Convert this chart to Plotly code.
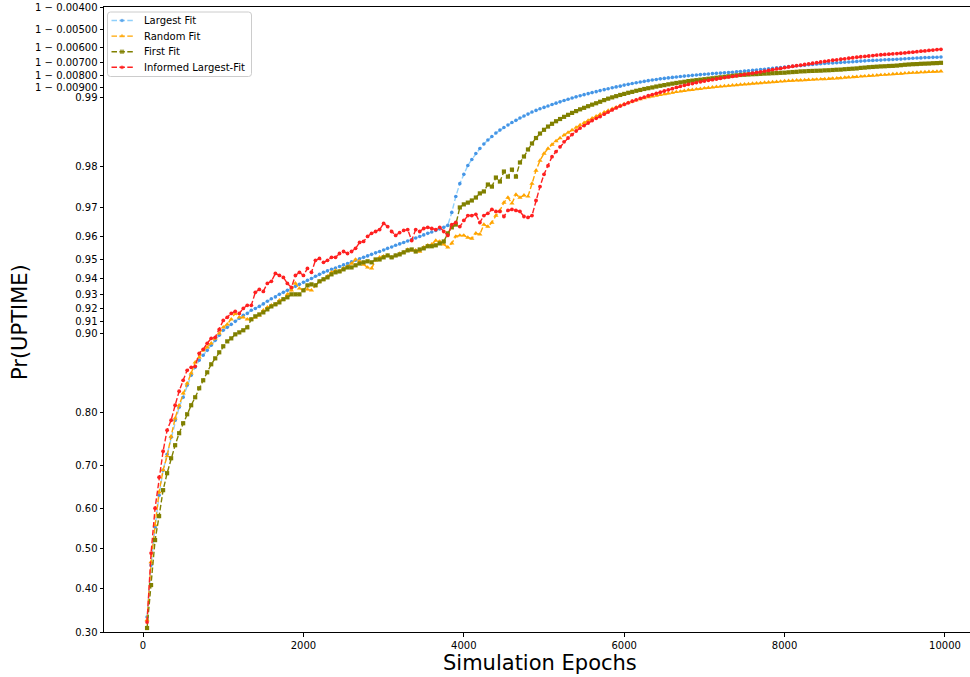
import numpy as np
import plotly.graph_objects as go

EPOCHS = list(range(50, 10000, 50))

LARGEST_FIT = [
    0.3330, 0.4586, 0.5549, 0.6333, 0.6901, 0.7238, 0.7570, 0.7874, 0.8087, 0.8239,
    0.8409, 0.8541, 0.8639, 0.8721, 0.8777, 0.8830, 0.8882, 0.8931, 0.8979, 0.9025,
    0.9051, 0.9077, 0.9102, 0.9127, 0.9151, 0.9166, 0.9190, 0.9204, 0.9219, 0.9237,
    0.9256, 0.9273, 0.9286, 0.9303, 0.9316, 0.9329, 0.9341, 0.9354, 0.9366, 0.9378,
    0.9390, 0.9401, 0.9413, 0.9424, 0.9435, 0.9443, 0.9451, 0.9458, 0.9466, 0.9474,
    0.9481, 0.9489, 0.9497, 0.9504, 0.9511, 0.9518, 0.9525, 0.9532, 0.9538, 0.9545,
    0.9552, 0.9558, 0.9565, 0.9571, 0.9577, 0.9583, 0.9589, 0.9595, 0.9601, 0.9607,
    0.9613, 0.9618, 0.9624, 0.9629, 0.9635, 0.9642, 0.9685, 0.9731, 0.9763, 0.9784,
    0.98023, 0.98137, 0.98245, 0.98331, 0.98405, 0.98468, 0.98520, 0.98571, 0.98613, 0.98648,
    0.98682, 0.98714, 0.98742, 0.98771, 0.98796, 0.98819, 0.98843, 0.98862, 0.98880, 0.98896,
    0.98912, 0.98927, 0.98942, 0.98956, 0.98970, 0.98983, 0.98995, 0.99007, 0.99018, 0.99029,
    0.99039, 0.99049, 0.99058, 0.99068, 0.99077, 0.99085, 0.99094, 0.99102, 0.99109, 0.99118,
    0.99125, 0.99132, 0.99139, 0.99145, 0.99151, 0.99157, 0.99162, 0.99167, 0.99172, 0.99176,
    0.99180, 0.99184, 0.99188, 0.99192, 0.99195, 0.99198, 0.99201, 0.99204, 0.99207, 0.99210,
    0.99212, 0.99215, 0.99217, 0.99219, 0.99222, 0.99224, 0.99226, 0.99229, 0.99231, 0.99234,
    0.99237, 0.99240, 0.99243, 0.99246, 0.99249, 0.99252, 0.99255, 0.99259, 0.99262, 0.99265,
    0.99268, 0.99271, 0.99274, 0.99276, 0.99278, 0.99282, 0.99284, 0.99287, 0.99289, 0.99292,
    0.99294, 0.99295, 0.99296, 0.99298, 0.99300, 0.99302, 0.99304, 0.99306, 0.99308, 0.99310,
    0.99312, 0.99313, 0.99314, 0.99315, 0.99317, 0.99318, 0.99319, 0.99321, 0.99322, 0.99324,
    0.99326, 0.99328, 0.99329, 0.99330, 0.99332, 0.99333, 0.99334, 0.99335, 0.99336,
]

RANDOM_FIT = [
    0.3262, 0.4662, 0.5600, 0.6403, 0.6901, 0.7197, 0.7588, 0.7907, 0.8118, 0.8297,
    0.8436, 0.8566, 0.8698, 0.8754, 0.8830, 0.8861, 0.8902, 0.8950, 0.8997, 0.9051,
    0.9077, 0.9119, 0.9166, 0.9135, 0.9135, 0.9119, 0.9119, 0.9135, 0.9151, 0.9190,
    0.9212, 0.9227, 0.9234, 0.9263, 0.9270, 0.9303, 0.9329, 0.9372, 0.9341, 0.9329,
    0.9335, 0.9329, 0.9360, 0.9384, 0.9396, 0.9413, 0.9435, 0.9445, 0.9440, 0.9456,
    0.9466, 0.9481, 0.9501, 0.9492, 0.9476, 0.9461, 0.9456, 0.9497, 0.9511, 0.9516,
    0.9520, 0.9511, 0.9520, 0.9529, 0.9534, 0.9547, 0.9543, 0.9543, 0.9538, 0.9556,
    0.9565, 0.9569, 0.9585, 0.9581, 0.9569, 0.9556, 0.9573, 0.9601, 0.9605, 0.9605,
    0.9597, 0.9593, 0.9613, 0.9609, 0.9645, 0.9638, 0.9652, 0.9675, 0.9691, 0.9714,
    0.9728, 0.9712, 0.9736, 0.9728, 0.9734, 0.9731, 0.9763, 0.9792, 0.98119, 0.98245,
    0.98331, 0.98397, 0.98452, 0.98498, 0.98542, 0.98578, 0.98613, 0.98648, 0.98682, 0.98711,
    0.98740, 0.98767, 0.98793, 0.98817, 0.98839, 0.98860, 0.98879, 0.98898, 0.98916, 0.98932,
    0.98947, 0.98961, 0.98974, 0.98985, 0.98995, 0.99004, 0.99012, 0.99020, 0.99028, 0.99034,
    0.99041, 0.99048, 0.99055, 0.99060, 0.99066, 0.99072, 0.99076, 0.99081, 0.99085, 0.99090,
    0.99094, 0.99098, 0.99102, 0.99106, 0.99109, 0.99113, 0.99117, 0.99119, 0.99123, 0.99125,
    0.99128, 0.99131, 0.99133, 0.99136, 0.99140, 0.99142, 0.99145, 0.99147, 0.99150, 0.99153,
    0.99155, 0.99157, 0.99159, 0.99160, 0.99162, 0.99164, 0.99165, 0.99167, 0.99169, 0.99170,
    0.99173, 0.99174, 0.99177, 0.99179, 0.99182, 0.99184, 0.99187, 0.99189, 0.99192, 0.99194,
    0.99197, 0.99199, 0.99201, 0.99204, 0.99206, 0.99208, 0.99211, 0.99213, 0.99215, 0.99218,
    0.99220, 0.99222, 0.99224, 0.99226, 0.99227, 0.99229, 0.99230, 0.99231, 0.99232,
]

FIRST_FIT = [
    0.3086, 0.4087, 0.5221, 0.5824, 0.6450, 0.6835, 0.7155, 0.7417, 0.7644, 0.7822,
    0.7974, 0.8118, 0.8239, 0.8368, 0.8476, 0.8578, 0.8675, 0.8743, 0.8809, 0.8872,
    0.8921, 0.8950, 0.8988, 0.9006, 0.9025, 0.9051, 0.9119, 0.9143, 0.9158, 0.9174,
    0.9197, 0.9219, 0.9234, 0.9248, 0.9270, 0.9283, 0.9303, 0.9303, 0.9303, 0.9329,
    0.9360, 0.9366, 0.9360, 0.9384, 0.9396, 0.9407, 0.9424, 0.9435, 0.9440, 0.9451,
    0.9461, 0.9461, 0.9472, 0.9481, 0.9487, 0.9492, 0.9487, 0.9501, 0.9501, 0.9511,
    0.9520, 0.9511, 0.9520, 0.9525, 0.9534, 0.9543, 0.9547, 0.9538, 0.9547, 0.9552,
    0.9561, 0.9561, 0.9565, 0.9573, 0.9581, 0.9613, 0.9635, 0.9645, 0.9700, 0.9709,
    0.9714, 0.9720, 0.9728, 0.9739, 0.9744, 0.9761, 0.9756, 0.9777, 0.9768, 0.9790,
    0.9779, 0.9794, 0.9779, 0.98081, 0.98192, 0.98315, 0.98413, 0.98498, 0.98564, 0.98617,
    0.98661, 0.98698, 0.98731, 0.98759, 0.98786, 0.98810, 0.98833, 0.98854, 0.98874, 0.98891,
    0.98909, 0.98926, 0.98941, 0.98957, 0.98974, 0.98989, 0.99002, 0.99014, 0.99026, 0.99036,
    0.99047, 0.99056, 0.99066, 0.99074, 0.99083, 0.99090, 0.99097, 0.99105, 0.99112, 0.99118,
    0.99125, 0.99131, 0.99137, 0.99142, 0.99147, 0.99153, 0.99157, 0.99161, 0.99165, 0.99169,
    0.99173, 0.99177, 0.99181, 0.99185, 0.99189, 0.99193, 0.99197, 0.99201, 0.99204, 0.99206,
    0.99208, 0.99210, 0.99211, 0.99213, 0.99215, 0.99216, 0.99218, 0.99219, 0.99221, 0.99222,
    0.99225, 0.99227, 0.99229, 0.99232, 0.99233, 0.99235, 0.99236, 0.99237, 0.99238, 0.99240,
    0.99241, 0.99243, 0.99245, 0.99246, 0.99249, 0.99251, 0.99253, 0.99255, 0.99259, 0.99261,
    0.99264, 0.99266, 0.99268, 0.99270, 0.99271, 0.99273, 0.99274, 0.99276, 0.99279, 0.99282,
    0.99284, 0.99286, 0.99287, 0.99289, 0.99290, 0.99291, 0.99293, 0.99294, 0.99296,
]

INFORMED_LARGEST_FIT = [
    0.3217, 0.4891, 0.6020, 0.6746, 0.7298, 0.7699, 0.7874, 0.8118, 0.8326, 0.8476,
    0.8603, 0.8639, 0.8651, 0.8798, 0.8841, 0.8902, 0.8950, 0.8960, 0.9033, 0.9110,
    0.9135, 0.9166, 0.9182, 0.9166, 0.9204, 0.9227, 0.9227, 0.9316, 0.9335, 0.9322,
    0.9372, 0.9384, 0.9429, 0.9418, 0.9407, 0.9372, 0.9347, 0.9418, 0.9435, 0.9418,
    0.9456, 0.9435, 0.9497, 0.9506, 0.9487, 0.9497, 0.9511, 0.9511, 0.9529, 0.9538,
    0.9529, 0.9538, 0.9552, 0.9577, 0.9581, 0.9601, 0.9613, 0.9620, 0.9627, 0.9649,
    0.9638, 0.9620, 0.9605, 0.9616, 0.9624, 0.9627, 0.9585, 0.9627, 0.9620, 0.9631,
    0.9635, 0.9631, 0.9627, 0.9635, 0.9620, 0.9605, 0.9645, 0.9652, 0.9638, 0.9659,
    0.9675, 0.9675, 0.9679, 0.9652, 0.9675, 0.9682, 0.9694, 0.9688, 0.9688, 0.9672,
    0.9691, 0.9694, 0.9691, 0.9688, 0.9672, 0.9669, 0.9675, 0.9720, 0.9756, 0.9784,
    0.9802, 0.9819, 0.9828, 0.9836, 0.9844, 0.98498, 0.98549, 0.98600, 0.98641, 0.98675,
    0.98708, 0.98740, 0.98767, 0.98790, 0.98818, 0.98843, 0.98868, 0.98890, 0.98910, 0.98929,
    0.98946, 0.98962, 0.98977, 0.98991, 0.99005, 0.99018, 0.99030, 0.99041, 0.99053, 0.99064,
    0.99075, 0.99086, 0.99097, 0.99107, 0.99116, 0.99125, 0.99132, 0.99140, 0.99147, 0.99154,
    0.99160, 0.99165, 0.99171, 0.99177, 0.99183, 0.99188, 0.99192, 0.99197, 0.99202, 0.99208,
    0.99213, 0.99219, 0.99224, 0.99229, 0.99235, 0.99240, 0.99246, 0.99251, 0.99255, 0.99261,
    0.99266, 0.99271, 0.99276, 0.99280, 0.99284, 0.99289, 0.99293, 0.99297, 0.99302, 0.99306,
    0.99310, 0.99314, 0.99317, 0.99321, 0.99324, 0.99328, 0.99331, 0.99335, 0.99338, 0.99340,
    0.99343, 0.99346, 0.99349, 0.99351, 0.99353, 0.99355, 0.99357, 0.99359, 0.99361, 0.99363,
    0.99366, 0.99368, 0.99371, 0.99374, 0.99376, 0.99379, 0.99381, 0.99384, 0.99386,
]

SERIES_NAMES = ["Largest Fit", "Random Fit", "First Fit", "Informed Largest-Fit"]

Y_TICK_VALUES = [0.30, 0.40, 0.50, 0.60, 0.70, 0.80, 0.90,
                 0.91, 0.92, 0.93, 0.94, 0.95, 0.96, 0.97, 0.98, 0.99,
                 0.991, 0.992, 0.993, 0.994, 0.995, 0.996]
Y_TICK_LABELS = ["0.30", "0.40", "0.50", "0.60", "0.70", "0.80", "0.90",
                 "0.91", "0.92", "0.93", "0.94", "0.95", "0.96", "0.97", "0.98", "0.99",
                 "1 \u2212 0.00900", "1 \u2212 0.00800", "1 \u2212 0.00700",
                 "1 \u2212 0.00600", "1 \u2212 0.00500", "1 \u2212 0.00400"]
X_TICK_VALUES = [0, 2000, 4000, 6000, 8000, 10000]
Y_LIMITS = [0.30, 0.996]
X_LIMITS = [-487, 10312]


def logit(p):
    p = np.asarray(p, dtype=float)
    return np.log(p / (1.0 - p))


# (line colour, marker colour, marker symbol, marker size)
STYLES = [
    ("#8fd0fb", "#4595e6", "circle", 3.6),
    ("#ffa500", "#ffa500", "triangle-up", 4.6),
    ("#808000", "#808000", "square", 4.2),
    ("#ff2020", "#ff2020", "circle", 3.8),
]
DASH = "5.5px,2.4px"

fig = go.Figure()
for name, vals, (lcol, mcol, sym, msize) in zip(
        SERIES_NAMES, [LARGEST_FIT, RANDOM_FIT, FIRST_FIT, INFORMED_LARGEST_FIT], STYLES):
    n = min(len(EPOCHS), len(vals))
    fig.add_trace(go.Scatter(
        x=EPOCHS[:n], y=logit(vals[:n]), name=name, mode="lines+markers",
        line=dict(color=lcol, width=1.4, dash=DASH),
        marker=dict(color=mcol, symbol=sym, size=msize, line=dict(width=0)),
        customdata=vals[:n], showlegend=False,
        hovertemplate="%{x}: %{customdata}<extra>" + name + "</extra>",
    ))

# ---- legend drawn in axis-fraction space (matplotlib-style compact legend) ----
W, H, L0, T0 = 866.0, 625.0, 104.0, 7.0   # plot-area size and origin in pixels


def fx(px):
    return (px - L0) / W


def fy(py):
    return (T0 + H - py) / H


shapes = []
annotations = []
bx0, bx1, by0, by1, r = 107.5, 251.5, 12.0, 76.5, 3.0
path = (f"M {fx(bx0 + r)},{fy(by0)} L {fx(bx1 - r)},{fy(by0)} "
        f"Q {fx(bx1)},{fy(by0)} {fx(bx1)},{fy(by0 + r)} L {fx(bx1)},{fy(by1 - r)} "
        f"Q {fx(bx1)},{fy(by1)} {fx(bx1 - r)},{fy(by1)} L {fx(bx0 + r)},{fy(by1)} "
        f"Q {fx(bx0)},{fy(by1)} {fx(bx0)},{fy(by1 - r)} L {fx(bx0)},{fy(by0 + r)} "
        f"Q {fx(bx0)},{fy(by0)} {fx(bx0 + r)},{fy(by0)} Z")
shapes.append(dict(type="path", path=path, xref="paper", yref="paper",
                   line=dict(color="#cccccc", width=1), fillcolor="rgba(255,255,255,0.8)",
                   layer="below"))
FONT = "DejaVu Sans, Liberation Sans, sans-serif"
row_y = [20.5, 36.1, 51.7, 67.3]
for name, (lcol, mcol, sym, msize), yc in zip(SERIES_NAMES, STYLES, row_y):
    fig.add_trace(go.Scatter(
        x=[fx(111.5), fx(122.0), fx(133.0)], y=[fy(yc)] * 3, xaxis="x2", yaxis="y2",
        mode="lines+markers", line=dict(color=lcol, width=1.4, dash=DASH),
        marker=dict(color=mcol, symbol=sym, size=[0, msize, 0], line=dict(width=0)),
        showlegend=False, hoverinfo="skip"))
    annotations.append(dict(text=name, xref="paper", yref="paper", x=fx(141.5), y=fy(yc),
                            xanchor="left", yanchor="middle", showarrow=False,
                            font=dict(family=FONT, size=10, color="#000000")))

annotations += [
    dict(text="Simulation Epochs", xref="paper", yref="paper", x=fx(540), y=fy(663),
         xanchor="center", yanchor="middle", showarrow=False,
         font=dict(family=FONT, size=21, color="#000000")),
    dict(text="Pr(UPTIME)", xref="paper", yref="paper", x=fx(20), y=fy(322),
         xanchor="center", yanchor="middle", showarrow=False, textangle=-90,
         font=dict(family=FONT, size=21, color="#000000")),
]

fig.update_layout(
    width=970, height=677,
    margin=dict(l=104, r=0, t=7, b=45),
    paper_bgcolor="white", plot_bgcolor="white",
    font=dict(family=FONT, size=10, color="#000000"),
    showlegend=False,
    xaxis=dict(range=X_LIMITS, tickvals=X_TICK_VALUES, ticktext=[str(v) for v in X_TICK_VALUES],
               showgrid=False, zeroline=False, showline=True, linecolor="#000000", linewidth=1,
               mirror=True, ticks="outside", ticklen=3.5, tickcolor="#000000",
               tickfont=dict(family=FONT, size=10, color="#000000")),
    yaxis=dict(range=list(logit(Y_LIMITS)), tickvals=list(logit(Y_TICK_VALUES)), ticktext=Y_TICK_LABELS,
               showgrid=False, zeroline=False, showline=True, linecolor="#000000", linewidth=1,
               mirror=True, ticks="outside", ticklen=3.5, tickcolor="#000000",
               tickfont=dict(family=FONT, size=10, color="#000000")),
    xaxis2=dict(overlaying="x", range=[0, 1], visible=False, anchor="y2", fixedrange=True),
    yaxis2=dict(overlaying="y", range=[0, 1], visible=False, anchor="x2", fixedrange=True),
    shapes=shapes,
    annotations=annotations,
)

fig.write_html("out.html")
